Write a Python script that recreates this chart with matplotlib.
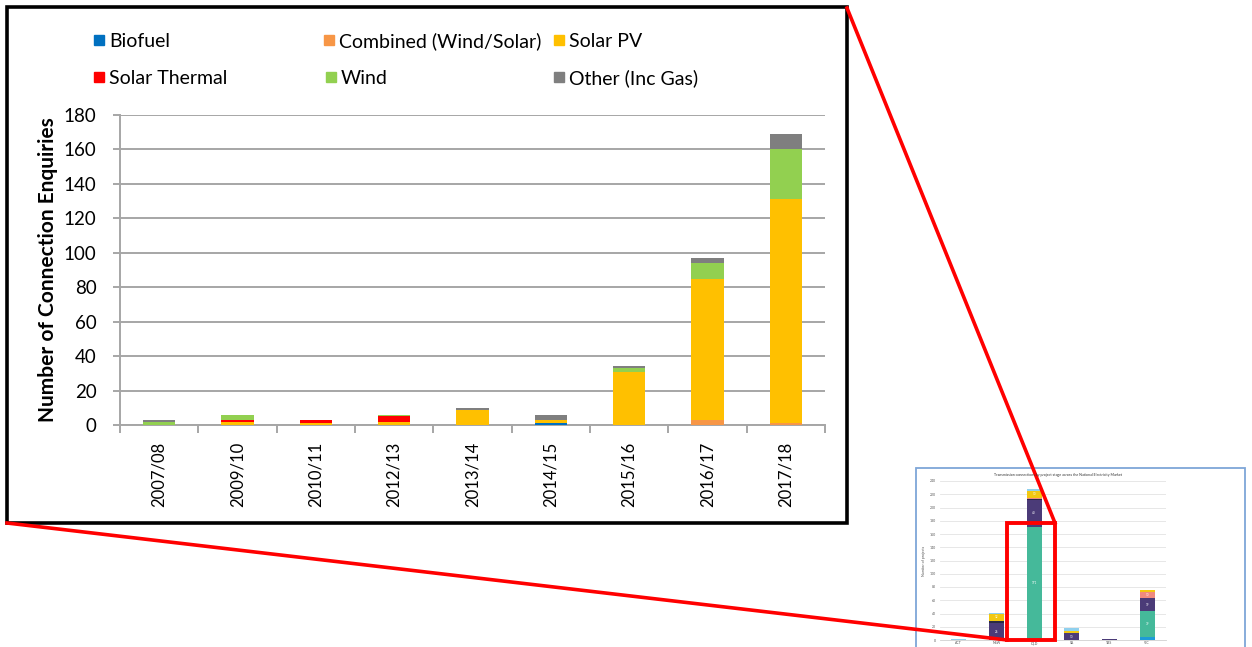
import matplotlib
matplotlib.use("Agg")
import matplotlib.pyplot as plt
from matplotlib.patches import Rectangle
from matplotlib.lines import Line2D
import numpy as np

plt.rcParams['font.family'] = ['Lato', 'DejaVu Sans']

# Main (zoomed) chart data
years = ['2007/08', '2009/10', '2010/11', '2012/13', '2013/14',
         '2014/15', '2015/16', '2016/17', '2017/18']
biofuel = [0, 0, 0, 0, 0, 1, 0, 0, 0]
combined = [0, 0, 0, 0, 0, 0, 0, 3, 1]
solar_pv = [0, 2, 1, 2, 9, 2, 31, 82, 130]
solar_thermal = [0, 1, 2, 3, 0, 0, 0, 0, 0]
wind = [2, 3, 0, 1, 0, 0, 2, 9, 29]
other = [1, 0, 0, 0, 1, 3, 1, 3, 9]

series_names = ['Biofuel', 'Combined (Wind/Solar)', 'Solar PV',
                'Solar Thermal', 'Wind', 'Other (Inc Gas)']
series_colors = ['#0070C0', '#F79646', '#FFC000', '#FF0000', '#92D050', '#7F7F7F']

# Thumbnail chart data
regions = ['ACT', 'NSW', 'QLD', 'SA', 'TAS', 'VIC']
thumb_series = [
    ([0, 0, 0, 0, 0, 5], '#1E9BD7'),
    ([0, 0, 171, 0, 0, 39], '#45B99A'),
    ([0, 25, 40, 10, 2, 19], '#4B3B78'),
    ([0, 3, 2, 0, 0, 0], '#2B2B45'),
    ([0, 0, 2, 0, 0, 10], '#F08A7E'),
    ([0, 12, 10, 3, 0, 2], '#F2C811'),
    ([1, 1, 3, 5, 0, 1], '#8FD0EE'),
]
thumb_title = 'Transmission connections by project stage across the National Electricity Market'

W, H = 1252, 647


def fx(x):
    return x / W


def fy(y):
    return 1 - y / H


fig = plt.figure(figsize=(W / 100, H / 100), dpi=100)
fig.patch.set_facecolor('white')

# ---- main chart ----
ax = fig.add_axes([fx(120), fy(425), (825 - 120) / W, (425 - 115) / H])
x = np.arange(len(years))
bottom = np.zeros(len(years))
for vals, name, col in zip([biofuel, combined, solar_pv, solar_thermal, wind, other],
                           series_names, series_colors):
    ax.bar(x, vals, width=0.41, bottom=bottom, color=col, label=name, zorder=3)
    bottom += np.array(vals)

ax.set_xlim(-0.5, len(years) - 0.5)
ax.set_ylim(0, 180)
ax.set_yticks(range(0, 181, 20))
ax.grid(axis='y', color='#A6A6A6', linewidth=1.4, zorder=0)
ax.set_xticks(x)
ax.set_xticklabels(years, rotation=90, fontsize=12)
ax.set_xticks(np.arange(-0.5, len(years)), minor=True)
ax.tick_params(axis='x', which='major', length=0, pad=12)
ax.tick_params(axis='x', which='minor', length=6, color='#A6A6A6', width=1.4)
ax.tick_params(axis='y', length=5, color='#A6A6A6', width=1.4, pad=12, labelsize=13.5)
for s in ['top', 'right']:
    ax.spines[s].set_visible(False)
for s in ['left', 'bottom']:
    ax.spines[s].set_color('#A6A6A6')
    ax.spines[s].set_linewidth(1.4)
ax.set_ylabel('Number of Connection Enquiries', fontsize=15, fontweight='bold', labelpad=4)

# legend drawn like the Excel one: fixed columns, two rows
legend_pos = [(94, 40), (324, 40), (554, 40), (94, 77), (326, 77), (554, 77)]
for (lx, ly), name, col in zip(legend_pos, series_names, series_colors):
    fig.add_artist(Rectangle((fx(lx), fy(ly + 5)), 10 / W, 10 / H,
                             transform=fig.transFigure, color=col))
    fig.text(fx(lx + 15), fy(ly), name, fontsize=14, va='center_baseline', ha='left')

# inset frame
fig.add_artist(Rectangle((fx(7), fy(523)), (847 - 7) / W, (523 - 7) / H,
                         transform=fig.transFigure, fill=False,
                         edgecolor='black', linewidth=2.6))

# ---- thumbnail chart ----
fig.add_artist(Rectangle((fx(916), fy(700)), (1245 - 916) / W, (700 - 468) / H,
                         transform=fig.transFigure, fill=False,
                         edgecolor='#7EA6D8', linewidth=1.3))
tax = fig.add_axes([fx(940), fy(640), (1166 - 940) / W, (640 - 481) / H])
tx = np.arange(len(regions))
tb = np.zeros(len(regions))
for vals, col in thumb_series:
    bars = tax.bar(tx, vals, width=0.4, bottom=tb, color=col, zorder=3)
    tax.bar_label(bars, labels=[str(v) if v >= 8 else '' for v in vals],
                  label_type='center', fontsize=2.2, color='white')
    tb += np.array(vals)
tax.set_xlim(-0.5, len(regions) - 0.5)
tax.set_ylim(0, 240)
tax.set_yticks(range(0, 241, 20))
tax.set_xticks(tx)
tax.set_xticklabels(regions, fontsize=2.5, color='#555555')
tax.tick_params(axis='y', labelsize=2.5, length=0, pad=3, labelcolor='#555555')
tax.tick_params(axis='x', length=0, pad=1)
tax.grid(axis='y', color='#E3E3E3', linewidth=0.6, zorder=0)
for s in ['top', 'right', 'left']:
    tax.spines[s].set_visible(False)
tax.spines['bottom'].set_color('#D0D0D0')
tax.spines['bottom'].set_linewidth(0.6)
tax.set_ylabel('Number of projects', fontsize=2.5, labelpad=3, color='#555555')
fig.text(fx(1058), fy(475), thumb_title, fontsize=2.6, ha='center', va='center',
         color='#333333')

# zoom marker and connector lines
fig.add_artist(Rectangle((fx(1007), fy(640)), (1055 - 1007) / W, (640 - 523) / H,
                         transform=fig.transFigure, fill=False,
                         edgecolor='#FF0000', linewidth=2.8))
fig.add_artist(Line2D([fx(847), fx(1055)], [fy(8), fy(523)],
                      transform=fig.transFigure, color='#FF0000', linewidth=2.6))
fig.add_artist(Line2D([fx(7), fx(1007)], [fy(523), fy(640)],
                      transform=fig.transFigure, color='#FF0000', linewidth=2.6))

fig.savefig('out.png', dpi=100, facecolor='white')
